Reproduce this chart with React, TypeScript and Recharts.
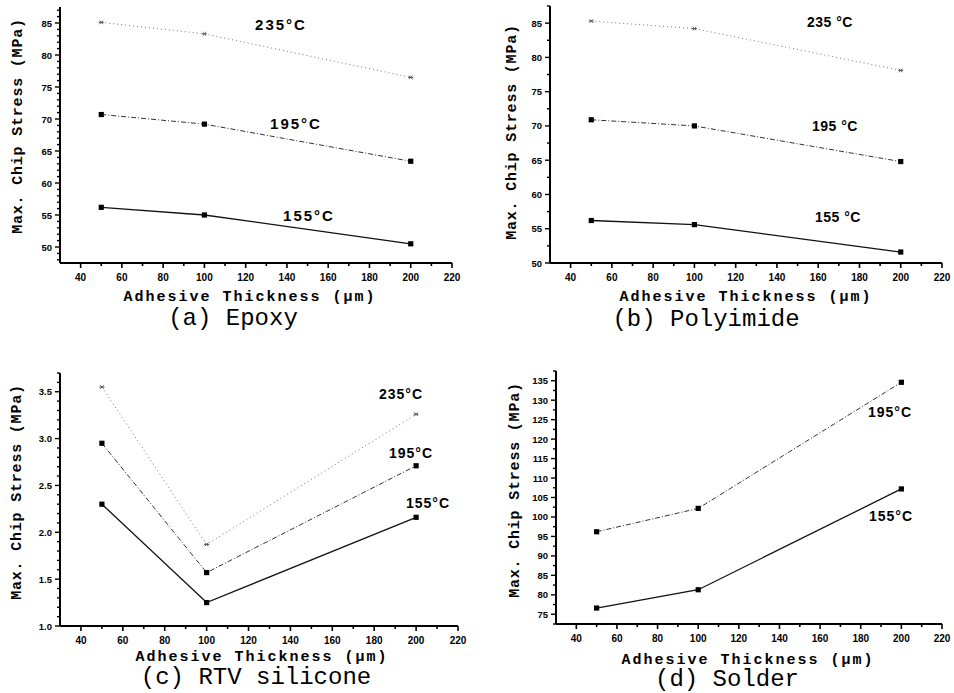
import React from 'react';
import { LineChart, Line, XAxis, YAxis } from 'recharts';

// ---- data ----
const THICKNESS = [50, 100, 200];

const EPOXY_155 = [56.2, 55.0, 50.5];
const EPOXY_195 = [70.7, 69.2, 63.4];
const EPOXY_235 = [85.1, 83.3, 76.5];

const POLY_155 = [56.2, 55.6, 51.6];
const POLY_195 = [70.9, 70.0, 64.8];
const POLY_235 = [85.3, 84.2, 78.1];

const RTV_155 = [2.3, 1.25, 2.16];
const RTV_195 = [2.95, 1.57, 2.71];
const RTV_235 = [3.55, 1.87, 3.26];

const SOLDER_155 = [76.6, 81.3, 107.2];
const SOLDER_195 = [96.2, 102.2, 134.6];

const X_MAJOR = [40, 60, 80, 100, 120, 140, 160, 180, 200, 220];
const Y_MAJOR_A = [50, 55, 60, 65, 70, 75, 80, 85];
const Y_MAJOR_B = [50, 55, 60, 65, 70, 75, 80, 85];
const Y_MAJOR_C = [1.0, 1.5, 2.0, 2.5, 3.0, 3.5];
const Y_MAJOR_D = [75, 80, 85, 90, 95, 100, 105, 110, 115, 120, 125, 130, 135];

const range = (a: number, b: number, s: number) => {
  const out: number[] = [];
  const n = Math.round((b - a) / s);
  for (let i = 0; i <= n; i++) out.push(Math.round((a + i * s) * 1000) / 1000);
  return out;
};

const isMajor = (v: number, majors: number[]) => majors.some((m) => Math.abs(m - v) < 1e-6);

const makeXTick = (majors: number[]) => (props: any) => {
  const { x, y, payload } = props;
  const major = isMajor(payload.value, majors);
  return (
    <g>
      <line x1={x} x2={x} y1={y} y2={y + (major ? 5 : 3)} stroke="#000" strokeWidth={1.6} />
      {major && (
        <text x={x} y={y + 18} textAnchor="middle" fontFamily="'Liberation Sans', Arial, sans-serif" fontWeight="bold" fontSize={10} fill="#000">
          {payload.value}
        </text>
      )}
    </g>
  );
};

const makeYTick = (majors: number[], decimals: number) => (props: any) => {
  const { x, y, payload } = props;
  const major = isMajor(payload.value, majors);
  return (
    <g>
      <line x1={x - (major ? 5 : 3)} x2={x} y1={y} y2={y} stroke="#000" strokeWidth={1.4} />
      {major && (
        <text x={x - 8} y={y + 3.5} textAnchor="end" fontFamily="'Liberation Sans', Arial, sans-serif" fontWeight="bold" fontSize={9.5} fill="#000">
          {Number(payload.value).toFixed(decimals)}
        </text>
      )}
    </g>
  );
};

const SquareDot = (props: any) => {
  const { cx, cy } = props;
  if (cx == null || cy == null) return null;
  return <rect x={cx - 2.6} y={cy - 2.6} width={5.2} height={5.2} fill="#000" />;
};

const StarDot = (props: any) => {
  const { cx, cy } = props;
  if (cx == null || cy == null) return null;
  return (
    <g stroke="#555" strokeWidth={1}>
      <line x1={cx - 2.5} x2={cx + 2.5} y1={cy} y2={cy} />
      <line x1={cx - 1.8} x2={cx + 1.8} y1={cy - 1.8} y2={cy + 1.8} />
      <line x1={cx - 1.8} x2={cx + 1.8} y1={cy + 1.8} y2={cy - 1.8} />
    </g>
  );
};

type Panel = {
  key: string;
  rect: { x0: number; x1: number; y0: number; y1: number };
  yDomain: [number, number];
  yMajor: number[];
  yMinorStep: number;
  yStart: number;
  yEnd: number;
  decimals: number;
  s155: number[];
  s195: number[];
  s235?: number[];
};

const PANELS: Panel[] = [
  { key: 'a', rect: { x0: 60, x1: 452, y0: 7, y1: 263 }, yDomain: [47.5, 87.5], yMajor: Y_MAJOR_A, yMinorStep: 1, yStart: 48, yEnd: 87, decimals: 0, s155: EPOXY_155, s195: EPOXY_195, s235: EPOXY_235 },
  { key: 'b', rect: { x0: 550, x1: 942, y0: 6, y1: 263 }, yDomain: [50, 87.5], yMajor: Y_MAJOR_B, yMinorStep: 2.5, yStart: 50, yEnd: 87.5, decimals: 0, s155: POLY_155, s195: POLY_195, s235: POLY_235 },
  { key: 'c', rect: { x0: 60, x1: 458, y0: 373, y1: 626 }, yDomain: [1.0, 3.7], yMajor: Y_MAJOR_C, yMinorStep: 0.1, yStart: 1.0, yEnd: 3.7, decimals: 1, s155: RTV_155, s195: RTV_195, s235: RTV_235 },
  { key: 'd', rect: { x0: 556, x1: 942, y0: 371, y1: 624 }, yDomain: [72.5, 137.5], yMajor: Y_MAJOR_D, yMinorStep: 2.5, yStart: 72.5, yEnd: 137.5, decimals: 0, s155: SOLDER_155, s195: SOLDER_195 },
];

const W = 954;
const H = 693;
const YW = 30;
const XH = 30;

const PanelChart = ({ p }: { p: Panel }) => {
  const rows = THICKNESS.map((t, i) => ({
    t,
    s155: p.s155[i],
    s195: p.s195[i],
    s235: p.s235 ? p.s235[i] : undefined,
  }));
  const margin = {
    left: p.rect.x0 - YW,
    top: p.rect.y0,
    right: W - p.rect.x1,
    bottom: H - p.rect.y1 - XH,
  };
  const xTicks = range(30, 220, 10).filter((v) => v >= 40);
  const yTicks = range(p.yStart, p.yEnd, p.yMinorStep);
  return (
    <div style={{ position: 'absolute', left: 0, top: 0 }}>
      <LineChart width={W} height={H} data={rows} margin={margin}>
        <XAxis
          dataKey="t"
          type="number"
          domain={[30, 220]}
          ticks={xTicks}
          interval={0}
          height={XH}
          tickSize={0}
          tickMargin={0}
          tickLine={false}
          axisLine={{ stroke: '#000', strokeWidth: 2 }}
          tick={makeXTick(X_MAJOR)}
          allowDataOverflow
        />
        <YAxis
          type="number"
          domain={p.yDomain}
          ticks={yTicks}
          interval={0}
          width={YW}
          tickSize={0}
          tickMargin={0}
          tickLine={false}
          axisLine={{ stroke: '#000', strokeWidth: 2 }}
          tick={makeYTick(p.yMajor, p.decimals)}
          allowDataOverflow
        />
        {p.s235 && (
          <Line dataKey="s235" stroke="#777" strokeWidth={1} strokeDasharray="1 3" dot={<StarDot />} activeDot={false} isAnimationActive={false} />
        )}
        <Line dataKey="s195" stroke="#333" strokeWidth={1} strokeDasharray="5 2 1 2" dot={<SquareDot />} activeDot={false} isAnimationActive={false} />
        <Line dataKey="s155" stroke="#111" strokeWidth={1.3} dot={<SquareDot />} activeDot={false} isAnimationActive={false} />
      </LineChart>
    </div>
  );
};

const Txt = ({ x, y, rotate, style, children }: any) => (
  <div
    style={{
      position: 'absolute',
      left: x,
      top: y,
      transform: `translate(-50%, -50%)${rotate ? ' rotate(-90deg)' : ''}`,
      whiteSpace: 'nowrap',
      lineHeight: 1,
      color: '#000',
      ...style,
    }}
  >
    {children}
  </div>
);

const MONO = "'Liberation Mono', 'Courier New', monospace";
const SANS = "'Liberation Sans', Arial, sans-serif";
const xTitleStyle = { fontFamily: MONO, fontWeight: 'bold', fontSize: 15, letterSpacing: 2 };
const yTitleStyle = { fontFamily: MONO, fontWeight: 'bold', fontSize: 15, letterSpacing: 0.8 };
const subStyle = { fontFamily: MONO, fontWeight: 'normal', fontSize: 24 };
const tA = { fontFamily: SANS, fontWeight: 'bold', fontSize: 15, letterSpacing: 2 };
const tB = { fontFamily: SANS, fontWeight: 'bold', fontSize: 14, letterSpacing: 0.5 };
const tC = { fontFamily: SANS, fontWeight: 'bold', fontSize: 14, letterSpacing: 1 };

export default function App() {
  return (
    <div style={{ position: 'absolute', left: 0, top: 0, width: W, height: H, background: '#fff', overflow: 'hidden' }}>
      {PANELS.map((p) => (
        <PanelChart key={p.key} p={p} />
      ))}

      {/* axis titles */}
      <Txt x={250} y={297} style={xTitleStyle}>Adhesive Thickness (µm)</Txt>
      <Txt x={746} y={297} style={xTitleStyle}>Adhesive Thickness (µm)</Txt>
      <Txt x={262} y={657} style={xTitleStyle}>Adhesive Thickness (µm)</Txt>
      <Txt x={748} y={660} style={xTitleStyle}>Adhesive Thickness (µm)</Txt>

      <Txt x={18} y={126} rotate style={yTitleStyle}>Max. Chip Stress (MPa)</Txt>
      <Txt x={512} y={132} rotate style={yTitleStyle}>Max. Chip Stress (MPa)</Txt>
      <Txt x={17} y={492} rotate style={yTitleStyle}>Max. Chip Stress (MPa)</Txt>
      <Txt x={515} y={490} rotate style={yTitleStyle}>Max. Chip Stress (MPa)</Txt>

      {/* sub captions */}
      <Txt x={233} y={319} style={subStyle}>(a) Epoxy</Txt>
      <Txt x={706} y={320} style={subStyle}>(b) Polyimide</Txt>
      <Txt x={256} y={678} style={subStyle}>(c) RTV silicone</Txt>
      <Txt x={727} y={680} style={subStyle}>(d) Solder</Txt>

      {/* temperature labels */}
      <Txt x={281} y={24} style={tA}>235°C</Txt>
      <Txt x={296} y={123} style={tA}>195°C</Txt>
      <Txt x={309} y={215} style={tA}>155°C</Txt>

      <Txt x={830} y={22} style={tB}>235 °C</Txt>
      <Txt x={835} y={126} style={tB}>195 °C</Txt>
      <Txt x={838} y={217} style={tB}>155 °C</Txt>

      <Txt x={401} y={394} style={tC}>235°C</Txt>
      <Txt x={411} y={453} style={tC}>195°C</Txt>
      <Txt x={428} y={503} style={tC}>155°C</Txt>

      <Txt x={890} y={412} style={tC}>195°C</Txt>
      <Txt x={891} y={516} style={tC}>155°C</Txt>
    </div>
  );
}
